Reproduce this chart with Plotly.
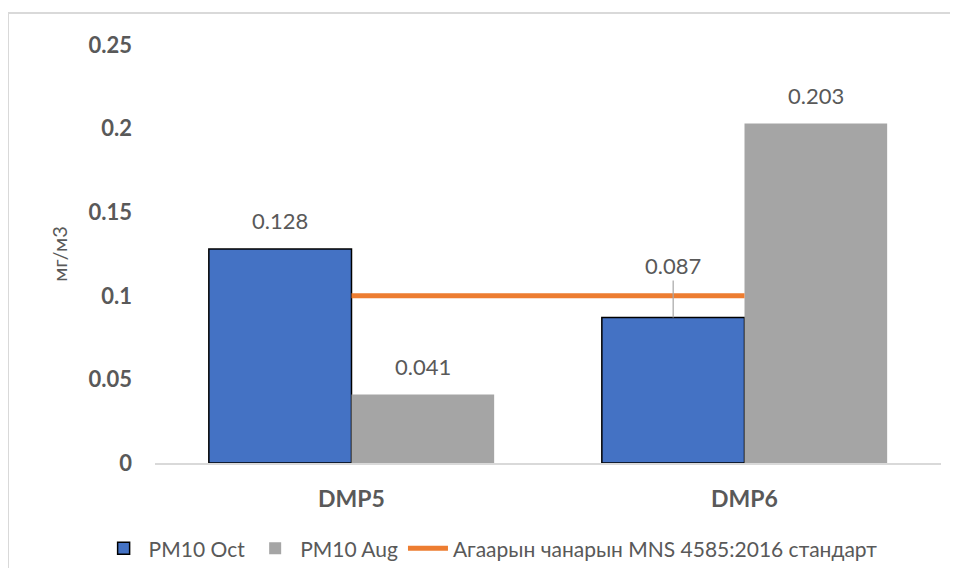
import plotly.graph_objects as go

categories = ["DMP5", "DMP6"]
pm10_oct = [0.128, 0.087]
pm10_aug = [0.041, 0.203]
standard = [0.1, 0.1]
y_ticks = [0, 0.05, 0.1, 0.15, 0.2, 0.25]
y_tick_labels = ["0", "0.05", "0.1", "0.15", "0.2", "0.25"]

FONT = "Lato"
GRAY_TXT = "#595959"

fig = go.Figure()
fig.add_trace(go.Bar(
    x=categories, y=pm10_oct, name="PM10 Oct",
    marker=dict(color="#4472C4", line=dict(color="#000000", width=1.5)),
))
fig.add_trace(go.Bar(
    x=categories, y=pm10_aug, name="PM10 Aug",
    marker=dict(color="#A5A5A5", line=dict(width=0)),
))
fig.add_trace(go.Scatter(
    x=categories, y=standard, mode="lines",
    name="Агаарын чанарын MNS 4585:2016 стандарт",
    line=dict(color="#ED7D31", width=5),
))

# data labels
bar_half = (1 - 0.274) / 4
annotations = []
for i, v in enumerate(pm10_oct):
    if v < standard[i] and v > standard[i] - 0.02:
        annotations.append(dict(
            x=i - bar_half, y=v, text=f"{v:g}", showarrow=True,
            ax=0, ay=-52, arrowhead=0, arrowwidth=1.2, arrowcolor="#A6A6A6",
            standoff=0, font=dict(family=FONT, size=22, color=GRAY_TXT),
        ))
    else:
        annotations.append(dict(
            x=i - bar_half, y=v, text=f"{v:g}", showarrow=False,
            yshift=28, font=dict(family=FONT, size=22, color=GRAY_TXT),
        ))
for i, v in enumerate(pm10_aug):
    annotations.append(dict(
        x=i + bar_half, y=v, text=f"{v:g}", showarrow=False,
        yshift=28, font=dict(family=FONT, size=22, color=GRAY_TXT),
    ))

W, H = 950, 560
L, R, T, B = 147, 17, 37, 105
pw, ph = W - L - R, H - T - B

fig.update_layout(
    width=W, height=H,
    margin=dict(l=L, r=R, t=T, b=B, autoexpand=False),
    paper_bgcolor="white", plot_bgcolor="white",
    barmode="group", bargap=0.274, bargroupgap=0,
    font=dict(family=FONT, color=GRAY_TXT),
    showlegend=True,
    legend=dict(
        orientation="h", x=0.427, xanchor="center", y=-0.205, yanchor="middle",
        font=dict(family=FONT, size=21, color=GRAY_TXT),
        traceorder="normal", itemwidth=40,
    ),
    xaxis=dict(
        type="category", showgrid=False, showline=True,
        linecolor="#D9D9D9", linewidth=2,
        ticks="", ticklabelstandoff=14,
        tickfont=dict(family=FONT, size=23, color=GRAY_TXT, weight="bold"),
    ),
    yaxis=dict(
        range=[0, 0.25], tickvals=y_ticks, ticktext=y_tick_labels,
        showgrid=False, showline=False, zeroline=False,
        ticks="", ticklabelstandoff=22,
        tickfont=dict(family=FONT, size=22, color=GRAY_TXT, weight="bold"),
        title=dict(text="мг/м3", standoff=15,
                   font=dict(family=FONT, size=20, color=GRAY_TXT)),
    ),
    annotations=annotations,
    shapes=[
        dict(type="line", xref="paper", yref="paper",
             x0=-L / pw, x1=-L / pw, y0=(ph + T - 5) / ph, y1=-B / ph,
             line=dict(color="#D9D9D9", width=2)),
        dict(type="line", xref="paper", yref="paper",
             x0=-L / pw, x1=(W - L) / pw, y0=(ph + T - 5) / ph, y1=(ph + T - 5) / ph,
             line=dict(color="#D9D9D9", width=2)),
    ],
)

fig.write_html("out.html")
